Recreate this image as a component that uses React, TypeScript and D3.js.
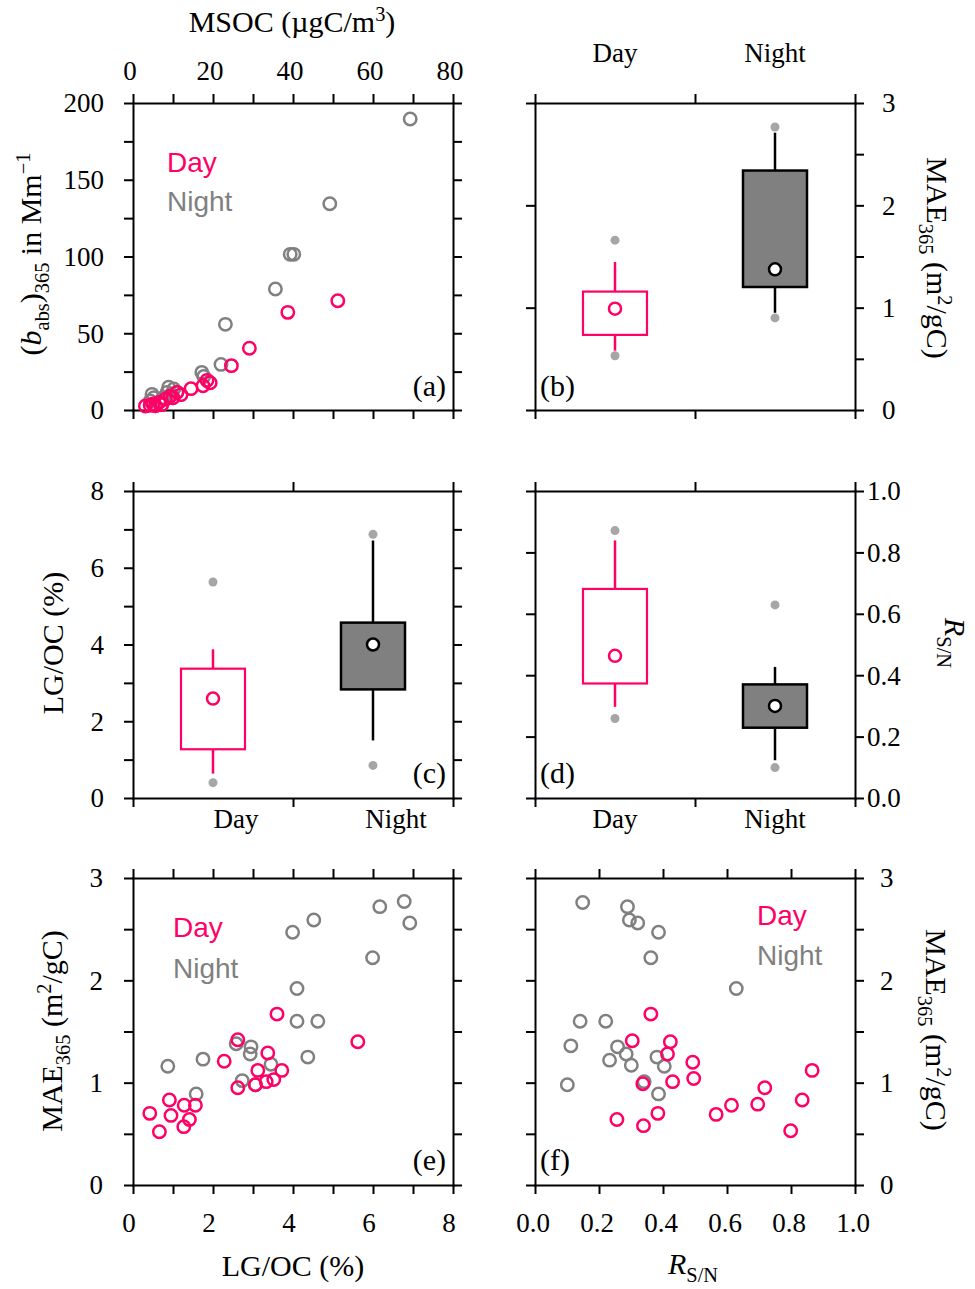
import React, { useEffect, useRef } from "react";
import * as d3 from "d3";

// colours
const DAY = "#ff0066";
const NIGHT = "#808080";
const DOT = "#a6a6a6";
const SERIF = "'Liberation Serif', 'Times New Roman', serif";
const SANS = "'Liberation Sans', Arial, sans-serif";

// (a) MSOC (ugC/m3) vs (b_abs)365 (Mm-1)
const aDay = [
  [3.1, 2.6], [4.3, 3], [5, 4], [5.6, 2.8], [6.5, 5], [7.2, 3.5], [8.1, 7], [9.3, 9], [10, 8],
  [11, 11.5], [12, 10], [14.5, 13.9], [17.5, 15.8], [18.5, 19.3], [19.3, 17.8], [24.6, 28.9],
  [29.1, 40.2], [38.7, 63.6], [51.2, 71.2],
];
const aNight = [
  [4.3, 5.9], [5.2, 8], [4.75, 10.2], [6.5, 5], [7.5, 8], [8.5, 11.5], [8.9, 14.8], [9.5, 10],
  [10.2, 13.7], [11, 11.5], [17.2, 24.5], [17.7, 21.9], [22, 29.7], [23.1, 55.8], [35.6, 78.8],
  [39.3, 101.4], [40.2, 101.4], [49.2, 134.4], [69.3, 189.6],
];

// box statistics: dotLo, whiskerLo, q1, mean, q3, whiskerHi, dotHi
const groups = ["Day", "Night"];
const maeBox = [
  { lo: 0.53, wLo: 0.58, q1: 0.734, mean: 0.99, q3: 1.157, wHi: 1.446, hi: 1.66 },
  { lo: 0.9, wLo: 0.95, q1: 1.202, mean: 1.375, q3: 2.34, wHi: 2.71, hi: 2.766 },
];
const lgBox = [
  { lo: 0.4, wLo: 0.635, q1: 1.27, mean: 2.59, q3: 3.37, wHi: 3.875, hi: 5.63 },
  { lo: 0.85, wLo: 1.5, q1: 2.83, mean: 4.0, q3: 4.57, wHi: 6.71, hi: 6.87 },
];
const rsnBox = [
  { lo: 0.259, wLo: 0.297, q1: 0.373, mean: 0.463, q3: 0.681, wHi: 0.839, hi: 0.871 },
  { lo: 0.099, wLo: 0.123, q1: 0.229, mean: 0.3, q3: 0.37, wHi: 0.427, hi: 0.629 },
];

// (e) LG/OC (%) vs MAE365
const eDay = [
  [3.6, 1.67], [5.62, 1.4], [2.62, 1.42], [2.28, 1.21], [3.37, 1.29], [3.12, 1.12], [3.72, 1.12],
  [3.52, 1.03], [3.33, 1.01], [3.06, 0.98], [2.62, 0.95], [0.91, 0.83], [1.28, 0.78], [1.56, 0.78],
  [0.42, 0.7], [0.95, 0.68], [1.41, 0.64], [1.27, 0.57], [0.66, 0.52],
];
const eNight = [
  [6.78, 2.77], [6.17, 2.72], [6.92, 2.56], [4.52, 2.59], [3.99, 2.47], [5.99, 2.22], [4.1, 1.92],
  [4.1, 1.6], [4.62, 1.6], [4.37, 1.25], [2.58, 1.38], [2.95, 1.35], [2.93, 1.28], [3.45, 1.18],
  [1.75, 1.23], [0.87, 1.16], [2.73, 1.02], [3.06, 0.98], [1.58, 0.89],
];

// (f) R_S/N vs MAE365
const fDay = [
  [0.362, 1.67], [0.304, 1.41], [0.423, 1.4], [0.414, 1.28], [0.493, 1.2], [0.496, 1.04],
  [0.43, 1.01], [0.337, 0.99], [0.866, 1.12], [0.718, 0.95], [0.835, 0.83], [0.614, 0.78],
  [0.696, 0.79], [0.566, 0.69], [0.384, 0.7], [0.256, 0.64], [0.339, 0.58], [0.799, 0.53],
];
const fNight = [
  [0.149, 2.76], [0.289, 2.72], [0.295, 2.59], [0.321, 2.56], [0.386, 2.47], [0.362, 2.22],
  [0.629, 1.92], [0.141, 1.6], [0.221, 1.6], [0.112, 1.36], [0.258, 1.35], [0.285, 1.28],
  [0.233, 1.22], [0.301, 1.17], [0.381, 1.25], [0.404, 1.16], [0.341, 1.01], [0.386, 0.89],
  [0.101, 0.98],
];

// tick labels
const msocLabels = [0, 20, 40, 60, 80];
const babsLabels = [0, 50, 100, 150, 200];
const maeLabels = [0, 1, 2, 3];
const lgLabels = [0, 2, 4, 6, 8];
const rsnLabels = [0, 0.2, 0.4, 0.6, 0.8, 1.0];

const W = 320;
const H = 307;

type Part = { t: string; sub?: boolean; sup?: boolean; it?: boolean };

function rich(sel: any, parts: Part[], size: number) {
  let shift = 0;
  parts.forEach((p) => {
    const target = p.sub ? size * 0.28 : p.sup ? -size * 0.36 : 0;
    sel
      .append("tspan")
      .attr("dy", target - shift)
      .attr("font-size", p.sub || p.sup ? size * 0.68 : size)
      .attr("font-style", p.it ? "italic" : null)
      .text(p.t);
    shift = target;
  });
  return sel;
}

function ticks(g: any, scale: any, side: string, values: number[]) {
  const ax =
    side === "top" ? d3.axisTop(scale) : side === "bottom" ? d3.axisBottom(scale) : side === "left" ? d3.axisLeft(scale) : d3.axisRight(scale);
  ax.tickValues(values).tickSize(9).tickSizeOuter(0).tickFormat(() => "");
  const a = g.append("g").call(ax);
  if (side === "bottom") a.attr("transform", `translate(0,${H})`);
  if (side === "right") a.attr("transform", `translate(${W},0)`);
  a.select(".domain").attr("stroke", "#000").attr("stroke-width", 2).attr("stroke-linecap", "square");
  a.selectAll(".tick line").attr("stroke", "#000").attr("stroke-width", 2);
  a.selectAll("text").remove();
}

function text(svg: any, x: number, y: number, s: string, o: any = {}) {
  return svg
    .append("text")
    .attr("x", x)
    .attr("y", y)
    .attr("font-family", o.font || SERIF)
    .attr("font-size", o.size || 27)
    .attr("text-anchor", o.anchor || "middle")
    .attr("fill", o.fill || "#000")
    .attr("dy", o.dy || null)
    .text(s);
}

function scatter(g: any, x: any, y: any, night: number[][], day: number[][]) {
  [[night, NIGHT], [day, DAY]].forEach(([pts, col]: any) => {
    g.append("g")
      .selectAll("circle")
      .data(pts)
      .join("circle")
      .attr("cx", (d: number[]) => x(d[0]))
      .attr("cy", (d: number[]) => y(d[1]))
      .attr("r", 6.2)
      .attr("fill", "none")
      .attr("stroke", col)
      .attr("stroke-width", 2.5);
  });
}

function boxes(g: any, x: any, y: any, stats: any[]) {
  stats.forEach((s, i) => {
    const cx = x(0.25 + i * 0.5);
    const night = i === 1;
    const stroke = night ? "#000" : DAY;
    const bw = x(0.2) - x(0);
    g.append("line").attr("x1", cx).attr("x2", cx).attr("y1", y(s.q3)).attr("y2", y(s.wHi)).attr("stroke", stroke).attr("stroke-width", 2.5);
    g.append("line").attr("x1", cx).attr("x2", cx).attr("y1", y(s.q1)).attr("y2", y(s.wLo)).attr("stroke", stroke).attr("stroke-width", 2.5);
    g.append("rect")
      .attr("x", cx - bw / 2)
      .attr("width", bw)
      .attr("y", y(s.q3))
      .attr("height", y(s.q1) - y(s.q3))
      .attr("fill", night ? NIGHT : "#fff")
      .attr("stroke", stroke)
      .attr("stroke-width", night ? 2.5 : 2.2);
    g.append("circle").attr("cx", cx).attr("cy", y(s.mean)).attr("r", 6).attr("fill", "#fff").attr("stroke", stroke).attr("stroke-width", 2.5);
    [s.lo, s.hi].forEach((v: number) => {
      g.append("circle").attr("cx", cx).attr("cy", y(v)).attr("r", 4.5).attr("fill", DOT);
    });
  });
}

const maeTitle: Part[] = [{ t: "MAE" }, { t: "365", sub: true }, { t: " (m" }, { t: "2", sup: true }, { t: "/gC)" }];
const rsnTitle: Part[] = [{ t: "R", it: true }, { t: "S/N", sub: true }];

export default function App() {
  const ref = useRef<SVGSVGElement>(null);

  useEffect(() => {
    const svg = d3.select(ref.current);
    svg.selectAll("*").remove();
    const L = 133, R = 535;
    const T = [103, 491, 878];
    const panel = (x: number, y: number) => svg.append("g").attr("transform", `translate(${x},${y})`);
    const xCat = d3.scaleLinear([0, 1], [0, W]);
    const half = [0, 0.5, 1];

    // (a)
    const xA = d3.scaleLinear([0, 80], [0, W]);
    const yA = d3.scaleLinear([0, 200], [H, 0]);
    const ga = panel(L, T[0]);
    ticks(ga, xA, "top", d3.range(0, 81, 10));
    ticks(ga, xA, "bottom", d3.range(0, 81, 10));
    ticks(ga, yA, "left", d3.range(0, 201, 25));
    ticks(ga, yA, "right", d3.range(0, 201, 25));
    scatter(ga, xA, yA, aNight, aDay);
    msocLabels.forEach((v) => text(svg, L + xA(v) - 3, 80, String(v)));
    babsLabels.forEach((v) => text(svg, 104, T[0] + yA(v), String(v), { anchor: "end", dy: "0.35em" }));
    rich(text(svg, 292, 32, "", { size: 30 }), [{ t: "MSOC (µgC/m" }, { t: "3", sup: true }, { t: ")" }], 30);
    rich(
      text(svg, 0, 0, "", { size: 30 }).attr("transform", "translate(41,254) rotate(-90)"),
      [{ t: "(" }, { t: "b", it: true }, { t: "abs", sub: true }, { t: ")" }, { t: "365", sub: true }, { t: " in Mm" }, { t: "−1", sup: true }],
      30
    );
    text(svg, 167, 172, "Day", { font: SANS, size: 28, anchor: "start", fill: DAY });
    text(svg, 167, 211, "Night", { font: SANS, size: 28, anchor: "start", fill: NIGHT });
    text(svg, 446, 396, "(a)", { size: 30, anchor: "end" });

    // (b)
    const yB = d3.scaleLinear([0, 3], [H, 0]);
    const gb = panel(R, T[0]);
    ticks(gb, xCat, "top", half);
    ticks(gb, xCat, "bottom", half);
    ticks(gb, yB, "left", [0, 1, 2, 3]);
    ticks(gb, yB, "right", d3.range(0, 3.01, 0.5));
    boxes(gb, xCat, yB, maeBox);
    groups.forEach((s, i) => text(svg, R + xCat(0.25 + i * 0.5), 62, s));
    maeLabels.forEach((v) => text(svg, 882, T[0] + yB(v), String(v), { anchor: "start", dy: "0.35em" }));
    rich(text(svg, 0, 0, "", { size: 30 }).attr("transform", "translate(927,258) rotate(90)"), maeTitle, 30);
    text(svg, 540, 396, "(b)", { size: 30, anchor: "start" });

    // (c)
    const yC = d3.scaleLinear([0, 8], [H, 0]);
    const gc = panel(L, T[1]);
    ticks(gc, xCat, "top", half);
    ticks(gc, xCat, "bottom", half);
    ticks(gc, yC, "left", d3.range(0, 9, 1));
    ticks(gc, yC, "right", d3.range(0, 9, 1));
    boxes(gc, xCat, yC, lgBox);
    groups.forEach((s, i) => text(svg, L + xCat(0.25 + i * 0.5) + 23, 828, s));
    lgLabels.forEach((v) => text(svg, 104, T[1] + yC(v), String(v), { anchor: "end", dy: "0.35em" }));
    text(svg, 0, 0, "LG/OC (%)", { size: 30 }).attr("transform", "translate(63,643) rotate(-90)");
    text(svg, 446, 783, "(c)", { size: 30, anchor: "end" });

    // (d)
    const yD = d3.scaleLinear([0, 1], [H, 0]);
    const gd = panel(R, T[1]);
    ticks(gd, xCat, "top", half);
    ticks(gd, xCat, "bottom", half);
    ticks(gd, yD, "left", rsnLabels);
    ticks(gd, yD, "right", rsnLabels);
    boxes(gd, xCat, yD, rsnBox);
    groups.forEach((s, i) => text(svg, R + xCat(0.25 + i * 0.5), 828, s));
    rsnLabels.forEach((v) => text(svg, 867, T[1] + yD(v), v.toFixed(1), { anchor: "start", dy: "0.35em" }));
    rich(text(svg, 0, 0, "", { size: 30 }).attr("transform", "translate(945,643) rotate(90)"), rsnTitle, 30);
    text(svg, 540, 783, "(d)", { size: 30, anchor: "start" });

    // (e)
    const xE = d3.scaleLinear([0, 8], [0, W]);
    const yE = d3.scaleLinear([0, 3], [H, 0]);
    const ge = panel(L, T[2]);
    ticks(ge, xE, "top", d3.range(0, 9, 1));
    ticks(ge, xE, "bottom", d3.range(0, 9, 1));
    ticks(ge, yE, "left", d3.range(0, 3.01, 0.5));
    ticks(ge, yE, "right", d3.range(0, 3.01, 0.5));
    scatter(ge, xE, yE, eNight, eDay);
    lgLabels.forEach((v) => text(svg, L + xE(v) - 4, 1232, String(v)));
    maeLabels.forEach((v) => text(svg, 103, T[2] + yE(v), String(v), { anchor: "end", dy: "0.35em" }));
    rich(text(svg, 0, 0, "", { size: 30 }).attr("transform", "translate(62,1031) rotate(-90)"), maeTitle, 30);
    text(svg, 293, 1276, "LG/OC (%)", { size: 30 });
    text(svg, 173, 937, "Day", { font: SANS, size: 28, anchor: "start", fill: DAY });
    text(svg, 173, 978, "Night", { font: SANS, size: 28, anchor: "start", fill: NIGHT });
    text(svg, 446, 1170, "(e)", { size: 30, anchor: "end" });

    // (f)
    const xF = d3.scaleLinear([0, 1], [0, W]);
    const yF = d3.scaleLinear([0, 3], [H, 0]);
    const gf = panel(R, T[2]);
    ticks(gf, xF, "top", rsnLabels);
    ticks(gf, xF, "bottom", rsnLabels);
    ticks(gf, yF, "left", d3.range(0, 3.01, 0.5));
    ticks(gf, yF, "right", d3.range(0, 3.01, 0.5));
    scatter(gf, xF, yF, fNight, fDay);
    rsnLabels.forEach((v) => text(svg, R + xF(v) - 2, 1232, v.toFixed(1)));
    maeLabels.forEach((v) => text(svg, 880, T[2] + yF(v), String(v), { anchor: "start", dy: "0.35em" }));
    rich(text(svg, 0, 0, "", { size: 30 }).attr("transform", "translate(926,1030) rotate(90)"), maeTitle, 30);
    rich(text(svg, 693, 1274, "", { size: 30 }), rsnTitle, 30);
    text(svg, 757, 925, "Day", { font: SANS, size: 28, anchor: "start", fill: DAY });
    text(svg, 757, 965, "Night", { font: SANS, size: 28, anchor: "start", fill: NIGHT });
    text(svg, 540, 1170, "(f)", { size: 30, anchor: "start" });
  }, []);

  return (
    <svg
      ref={ref}
      width={975}
      height={1289}
      style={{ position: "absolute", left: 0, top: 0, background: "#fff", display: "block" }}
    />
  );
}
